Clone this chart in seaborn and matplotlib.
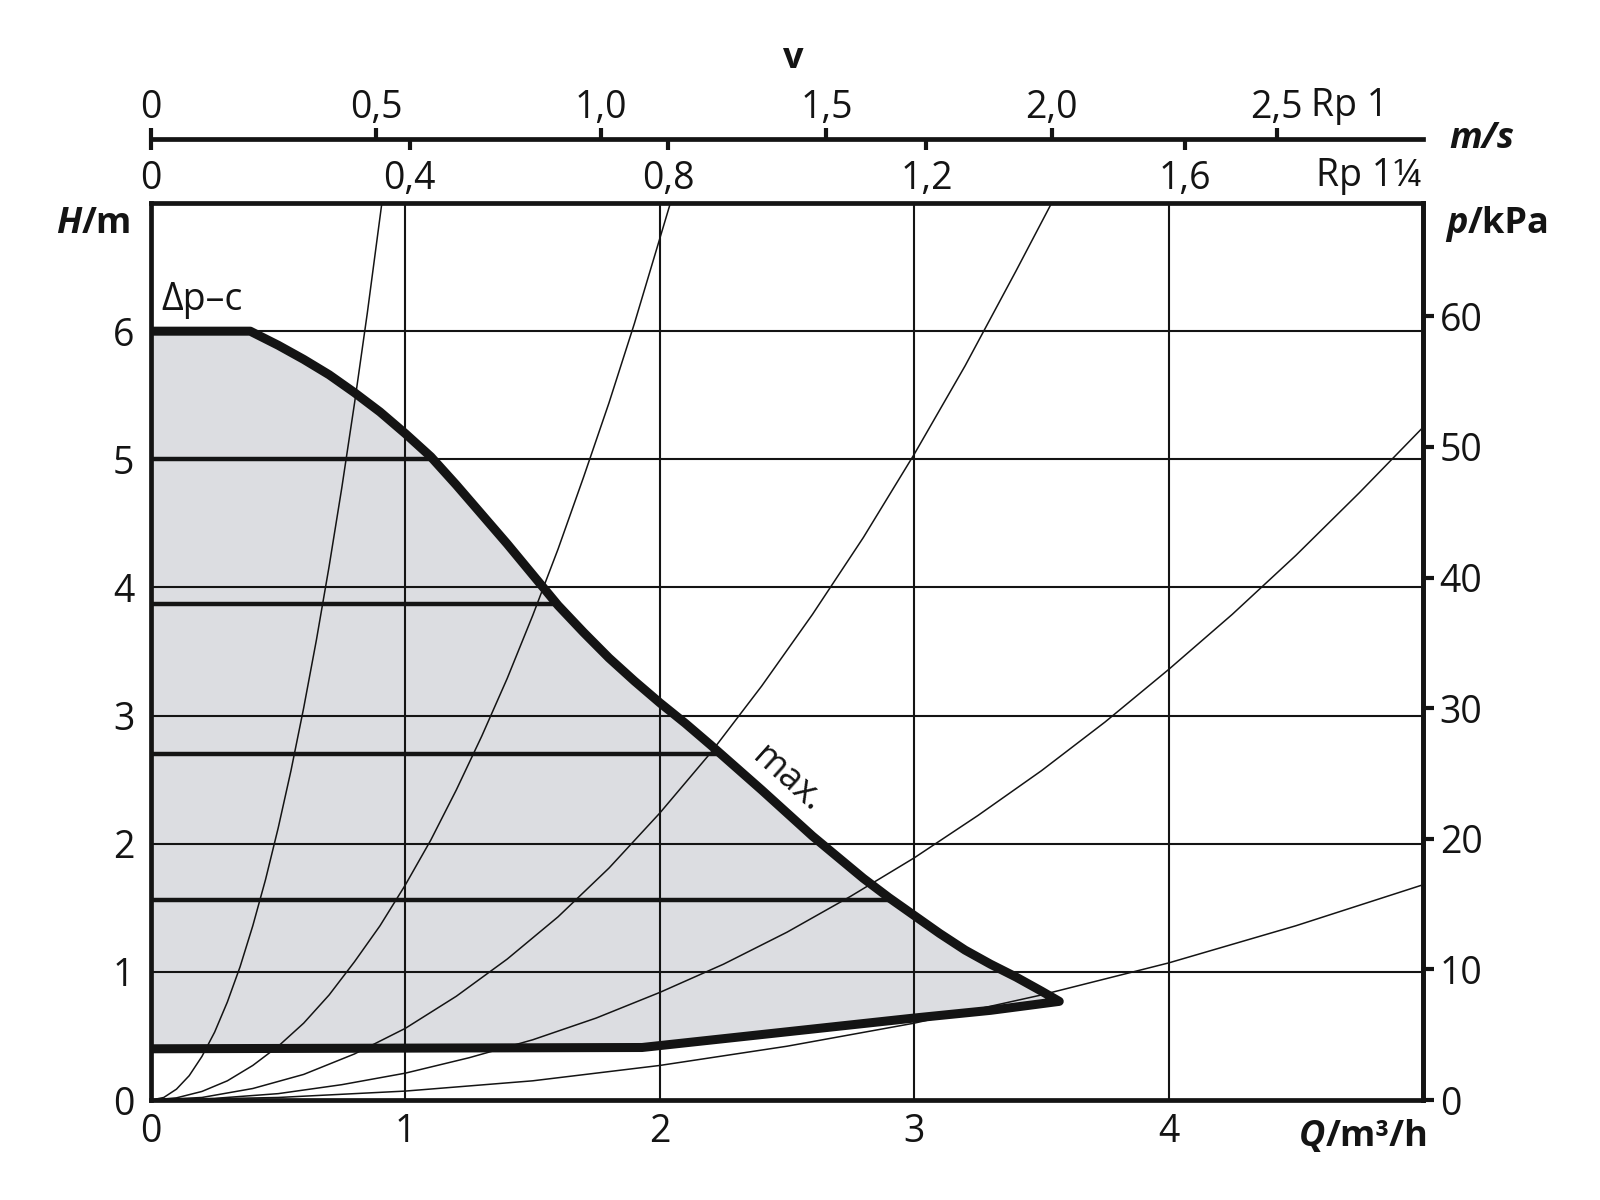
import numpy as np
import pandas as pd
import matplotlib
matplotlib.use("Agg")
import matplotlib.pyplot as plt
import matplotlib.transforms as mtransforms
import seaborn as sns

# pump field, max curve (Q in m3/h, H in m)
max_q = [0.0, 0.39, 0.5, 0.6, 0.7, 0.8, 0.9, 1.0, 1.1, 1.2, 1.3, 1.4, 1.5, 1.6, 1.7, 1.8,
         1.9, 2.0, 2.1, 2.2, 2.4, 2.6, 2.8, 2.9, 3.0, 3.1, 3.2, 3.3, 3.4, 3.5, 3.57]
max_h = [6.0, 6.0, 5.89, 5.78, 5.66, 5.52, 5.37, 5.2, 5.02, 4.8, 4.57, 4.34, 4.1, 3.86, 3.65, 3.45,
         3.27, 3.1, 2.94, 2.77, 2.42, 2.06, 1.73, 1.58, 1.44, 1.3, 1.17, 1.06, 0.96, 0.85, 0.77]
# lower limit of the field
min_q = [3.57, 3.3, 3.0, 1.93, 0.0]
min_h = [0.77, 0.70, 0.64, 0.41, 0.40]
# constant pressure settings (dp-c) inside the field
dpc_levels = [5.0, 3.87, 2.7, 1.56]
dpc_ends = [1.1, 1.6, 2.23, 2.9]

# system curves
sys1_q = [0.0, 0.05, 0.1, 0.15, 0.2, 0.25, 0.3, 0.35, 0.4, 0.45, 0.5, 0.55, 0.6, 0.65, 0.7,
          0.75, 0.8, 0.85, 0.91]
sys1_h = [0.0, 0.02, 0.085, 0.19, 0.34, 0.53, 0.765, 1.04, 1.36, 1.72, 2.125, 2.57, 3.06, 3.59,
          4.165, 4.78, 5.44, 6.14, 7.04]
sys2_q = [0.0, 0.1, 0.2, 0.3, 0.4, 0.5, 0.6, 0.7, 0.8, 0.9, 1.0, 1.1, 1.2, 1.3, 1.4, 1.5, 1.6,
          1.7, 1.8, 1.9, 2.04]
sys2_h = [0.0, 0.017, 0.067, 0.15, 0.27, 0.42, 0.6, 0.82, 1.08, 1.36, 1.68, 2.03, 2.42, 2.84,
          3.29, 3.78, 4.3, 4.86, 5.44, 6.06, 6.99]
sys3_q = [0.0, 0.2, 0.4, 0.6, 0.8, 1.0, 1.2, 1.4, 1.6, 1.8, 2.0, 2.2, 2.4, 2.6, 2.8, 3.0, 3.2,
          3.4, 3.54]
sys3_h = [0.0, 0.02, 0.09, 0.2, 0.36, 0.56, 0.81, 1.1, 1.43, 1.81, 2.24, 2.71, 3.23, 3.79, 4.39,
          5.04, 5.73, 6.47, 7.0]
sys4_q = [0.0, 0.25, 0.5, 0.75, 1.0, 1.25, 1.5, 1.75, 2.0, 2.25, 2.5, 2.75, 3.0, 3.25, 3.5,
          3.75, 4.0, 4.25, 4.5, 4.75, 5.0]
sys4_h = [0.0, 0.013, 0.05, 0.12, 0.21, 0.33, 0.47, 0.64, 0.84, 1.06, 1.31, 1.59, 1.89, 2.22,
          2.57, 2.95, 3.36, 3.79, 4.25, 4.74, 5.25]
sys5_q = [0.0, 0.5, 1.0, 1.5, 2.0, 2.5, 3.0, 3.5, 4.0, 4.5, 5.0]
sys5_h = [0.0, 0.02, 0.07, 0.15, 0.27, 0.42, 0.6, 0.82, 1.07, 1.36, 1.68]

# axis ticks
q_ticks = [0, 1, 2, 3, 4]
h_ticks = [0, 1, 2, 3, 4, 5, 6]
p_ticks = [0, 10, 20, 30, 40, 50, 60]
v1_ticks = [0, 0.5, 1.0, 1.5, 2.0, 2.5]
v1_labels = ["0", "0,5", "1,0", "1,5", "2,0", "2,5"]
v2_ticks = [0, 0.4, 0.8, 1.2, 1.6]
v2_labels = ["0", "0,4", "0,8", "1,2", "1,6"]

RHO_G = 9.81      # m -> kPa
V1_FACTOR = 1.77  # m3/h per m/s, Rp 1
V2_FACTOR = 2.54  # m3/h per m/s, Rp 1 1/4

sns.set_theme(style="white")
plt.rcParams["font.family"] = ["Open Sans", "DejaVu Sans"]

INK = "#141414"
FS = 27      # tick labels and plain text
FSB = 26     # bold axis titles

fig = plt.figure(figsize=(16, 12), dpi=100)
left, bottom, width, height = 0.0944, 0.0833, 0.7950, 0.7475
ax = fig.add_axes([left, bottom, width, height])

# grey operating field
ax.fill(max_q + min_q, max_h + min_h, color="#dcdde1", lw=0, zorder=0.5)

# system curves
frames = []
for name, qq, hh in [("s1", sys1_q, sys1_h), ("s2", sys2_q, sys2_h), ("s3", sys3_q, sys3_h),
                     ("s4", sys4_q, sys4_h), ("s5", sys5_q, sys5_h)]:
    frames.append(pd.DataFrame({"Q": qq, "H": hh, "curve": name}))
sys_df = pd.concat(frames, ignore_index=True)
sns.lineplot(data=sys_df, x="Q", y="H", units="curve", estimator=None, sort=False,
             color=INK, lw=1.1, ax=ax, zorder=3)

# dp-c lines
ax.hlines(dpc_levels, 0, dpc_ends, color=INK, lw=3.2, zorder=3)

# field outline (max + lower limit)
sns.lineplot(x=max_q + min_q, y=max_h + min_h, sort=False, estimator=None,
             color=INK, lw=6.5, ax=ax, zorder=4)
ax.lines[-1].set_solid_joinstyle("round")

ax.set_xlim(0, 5)
ax.set_ylim(0, 7)
ax.set_xticks(q_ticks)
ax.set_yticks(h_ticks)
ax.set_xlabel("")
ax.set_ylabel("")
ax.grid(True, color=INK, lw=1.5)
ax.tick_params(axis="both", length=0, labelsize=FS, colors=INK)
ax.tick_params(axis="x", pad=9)
ax.tick_params(axis="y", pad=12)
for s in ax.spines.values():
    s.set_visible(True)
    s.set_color(INK)
    s.set_linewidth(3.4)

# right kPa axis
pax = ax.secondary_yaxis("right", functions=(lambda h: h * RHO_G, lambda p: p / RHO_G))
pax.set_yticks(p_ticks)
pax.tick_params(direction="out", length=8, width=3, labelsize=FS, pad=4, colors=INK)
pax.spines["right"].set_linewidth(3.4)
pax.spines["right"].set_color(INK)

# annotations inside the plot
ax.text(0.04, 6.24, "Δp–c", fontsize=FS, color=INK, ha="left", va="center")
ax.text(2.5, 2.5, "max.", fontsize=FS - 1, color=INK, ha="center", va="center",
        rotation=-42, rotation_mode="anchor")

# velocity scales above the plot
vax = fig.add_axes([left, 0.884, width, 1e-4])
vax.set_xlim(0, 5)
vax.set_ylim(0, 1)
vax.set_xticks([])
vax.set_yticks([])
vax.patch.set_visible(False)
for s in ["top", "left", "right"]:
    vax.spines[s].set_visible(False)
vax.spines["bottom"].set_linewidth(3.4)
vax.spines["bottom"].set_color(INK)

v1 = vax.secondary_xaxis("top", functions=(lambda q: q / V1_FACTOR, lambda v: v * V1_FACTOR))
v1.set_xticks(v1_ticks, labels=v1_labels)
v1.tick_params(direction="out", length=8, width=3, labelsize=FS, pad=1, colors=INK)
v1.spines["top"].set_visible(False)

v2 = vax.secondary_xaxis("bottom", functions=(lambda q: q / V2_FACTOR, lambda v: v * V2_FACTOR))
v2.set_xticks(v2_ticks, labels=v2_labels)
v2.tick_params(direction="out", length=8, width=3, labelsize=FS, pad=7, colors=INK)
v2.spines["bottom"].set_visible(False)

blend = mtransforms.blended_transform_factory(vax.transData, fig.transFigure)
fig.text(4.56, 0.912, "Rp 1", transform=blend, fontsize=FS, color=INK, ha="left", va="center")
fig.text(4.99, 0.853, "Rp 1¼", transform=blend, fontsize=FS, color=INK, ha="right", va="center")

# axis titles
fig.text(0.496, 0.951, "v", fontsize=FSB, fontweight="bold", color=INK, ha="center", va="center")
fig.text(0.926, 0.884, "m/s", fontsize=FSB, fontweight="bold", fontstyle="italic",
         color=INK, ha="center", va="center")


def split_label(x, y, first, rest):
    t1 = fig.text(x, y, first, fontsize=FSB, fontweight="bold", fontstyle="italic",
                  color=INK, ha="left", va="center")
    ax.annotate(rest, xy=(1, 0), xycoords=t1, fontsize=FSB, fontweight="bold",
                color=INK, ha="left", va="bottom")
    return t1


split_label(0.035, 0.813, "H", "/m")
split_label(0.904, 0.813, "p", "/kPa")
split_label(0.812, 0.0525, "Q", "/m³/h")

fig.savefig("out.png", dpi=100, facecolor="white")
